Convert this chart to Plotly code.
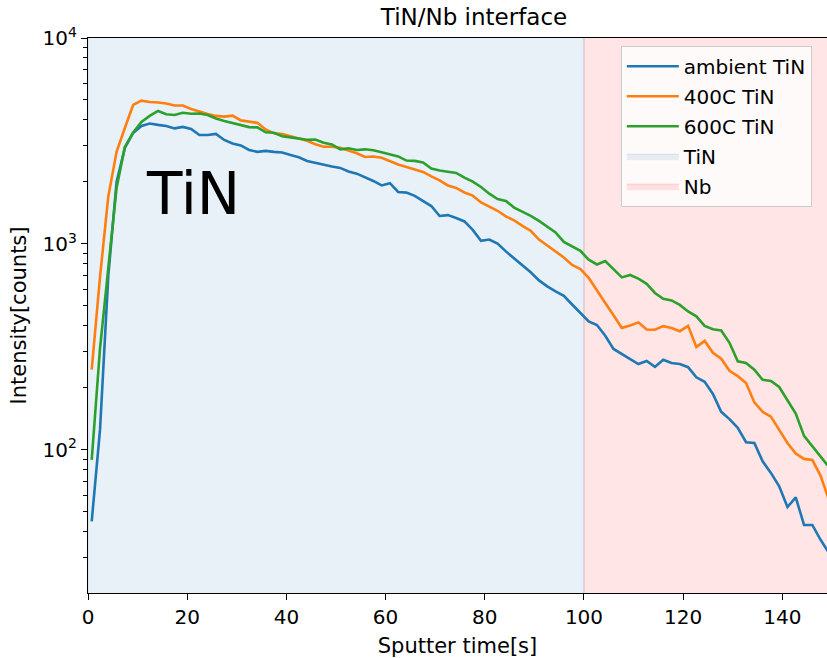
import plotly.graph_objects as go

# ---------------- data ----------------
time_s = [0.75, 2.42, 4.09, 5.76, 7.43, 9.10, 10.77, 12.44, 14.11, 15.78,
          17.45, 19.12, 20.79, 22.46, 24.13, 25.80, 27.47, 29.14, 30.81, 32.48,
          34.15, 35.82, 37.49, 39.16, 40.83, 42.50, 44.17, 45.84, 47.51, 49.18,
          50.85, 52.52, 54.19, 55.86, 57.53, 59.20, 60.87, 62.54, 64.21, 65.88,
          67.55, 69.22, 70.89, 72.56, 74.23, 75.90, 77.57, 79.24, 80.91, 82.58,
          84.25, 85.92, 87.59, 89.26, 90.93, 92.60, 94.27, 95.94, 97.61, 99.28,
          100.95, 102.62, 104.29, 105.96, 107.63, 109.30, 110.97, 112.64, 114.31, 115.98,
          117.65, 119.32, 120.99, 122.66, 124.33, 126.00, 127.67, 129.34, 131.01, 132.68,
          134.35, 136.02, 137.69, 139.36, 141.03, 142.70, 144.37, 146.04, 147.71, 149.38]

ambient_tin = [45, 125, 700, 2000, 2925, 3458, 3740, 3845, 3785, 3740,
               3640, 3700, 3615, 3380, 3380, 3420, 3198, 3075, 3010, 2860,
               2800, 2830, 2800, 2778, 2705, 2636, 2530, 2473, 2430, 2377,
               2340, 2250, 2194, 2115, 2022, 1923, 1972, 1788, 1775, 1711,
               1622, 1528, 1367, 1380, 1337, 1286, 1170, 1035, 1050, 1005,
               920, 851, 795, 728, 665, 622, 589, 560, 508, 460,
               420, 404, 358, 309, 292, 278, 261, 270, 253, 274,
               264, 261, 252, 225, 214, 187, 153, 141, 128, 109,
               108, 88, 77.3, 66.5, 52.8, 58.8, 43.2, 43.2, 36.6, 31.6]

tin_400c = [245, 690, 1700, 2800, 3656, 4730, 4963, 4890, 4860, 4810,
            4700, 4700, 4520, 4390, 4280, 4185, 4150, 4200, 3980, 3925,
            3873, 3595, 3445, 3420, 3343, 3270, 3172, 3048, 2966, 2966,
            2930, 2838, 2754, 2645, 2660, 2620, 2512, 2429, 2366, 2302,
            2238, 2130, 2034, 1923, 1870, 1778, 1716, 1590, 1517, 1449,
            1360, 1302, 1223, 1157, 1050, 984, 914, 860, 791, 755,
            684, 591, 517, 451, 391, 402, 416, 384, 383, 399,
            391, 377, 400, 316, 338, 296, 277, 242, 228, 211,
            170, 153, 145, 125, 108, 96, 90.4, 89.4, 74.8, 57.2]

tin_600c = [89.4, 310, 764, 1870, 2958, 3477, 3910, 4185, 4424, 4266,
            4230, 4338, 4290, 4300, 4230, 4063, 3955, 3867, 3775, 3693,
            3681, 3483, 3467, 3334, 3293, 3243, 3208, 3210, 3100, 3041,
            2880, 2912, 2860, 2880, 2850, 2790, 2735, 2660, 2540, 2530,
            2488, 2323, 2275, 2244, 2213, 2100, 2006, 1890, 1754, 1653,
            1617, 1502, 1439, 1368, 1294, 1210, 1138, 1023, 971, 925,
            838, 795, 826, 757, 688, 707, 679, 640, 578, 542,
            532, 506, 470, 445, 400, 385, 380, 331, 269, 264,
            245, 219, 216, 202, 175, 150, 117, 104.5, 92.5, 82.6]

series_names = ["ambient TiN", "400C TiN", "600C TiN"]
series_values = [ambient_tin, tin_400c, tin_600c]

region_names = ["TiN", "Nb"]
region_start = [0, 100]
region_end = [100, 160]

x_ticks = [0, 20, 40, 60, 80, 100, 120, 140]
y_ticks = [100, 1000, 10000]
y_tick_text = ["10<sup>2</sup>", "10<sup>3</sup>", "10<sup>4</sup>"]

# ---------------- styles ----------------
series_colors = ["#1f77b4", "#ff7f0e", "#2ca02c"]
region_fill = ["rgba(31,119,180,0.1)", "rgba(255,0,0,0.1)"]
FONT = "DejaVu Sans"
span_low, span_high = 1, 1e6

fig = go.Figure()

for k, (nm, x0, x1) in enumerate(zip(region_names, region_start, region_end)):
    fig.add_trace(go.Scatter(
        x=[x0, x1, x1, x0, x0], y=[span_low, span_low, span_high, span_high, span_low],
        fill="toself", fillcolor=region_fill[k], mode="lines",
        line=dict(color=region_fill[k], width=1.5),
        name=nm, legendgroup=nm, legendrank=10 + k, hoverinfo="skip"))

for k, (nm, vals) in enumerate(zip(series_names, series_values)):
    fig.add_trace(go.Scatter(
        x=time_s, y=vals, mode="lines", name=nm, legendgroup=nm, legendrank=1 + k,
        line=dict(color=series_colors[k], width=2.6)))

minor_vals = [m * 10 ** e for e in (1, 2, 3) for m in range(2, 10)]

fig.update_layout(
    width=827, height=658,
    margin=dict(l=88, r=0, t=38, b=65),
    paper_bgcolor="white", plot_bgcolor="white",
    font=dict(family=FONT, size=21, color="black"),
    title=dict(text="TiN/Nb interface", x=474 / 827, xanchor="center",
               y=1 - 17 / 658, yanchor="middle", yref="container",
               font=dict(family=FONT, size=23, color="black")),
    showlegend=True,
    legend=dict(x=0.721, xanchor="left", y=0.986, yanchor="top",
                bgcolor="rgba(255,255,255,0.8)", bordercolor="#cccccc", borderwidth=1,
                font=dict(family=FONT, size=20), tracegroupgap=1,
                itemwidth=52),
    annotations=[dict(text="TiN", xref="paper", yref="paper", x=0.0758, y=0.7198,
                      xanchor="left", yanchor="middle", showarrow=False,
                      font=dict(family=FONT, size=58, color="black"))],
)

fig.update_xaxes(range=[0, 149], tickvals=x_ticks, ticks="outside", ticklen=6, tickwidth=1.3,
                 tickcolor="black", showline=True, linecolor="black", linewidth=1.3,
                 mirror=True, showgrid=False, zeroline=False, automargin=False,
                 tickfont=dict(size=20),
                 title=dict(text="Sputter time[s]", font=dict(size=21), standoff=10))

fig.update_yaxes(type="log", range=[1.305, 4], tickvals=y_ticks, ticktext=y_tick_text,
                 ticks="outside", ticklen=6, tickwidth=1.3, tickcolor="black",
                 showline=True, linecolor="black", linewidth=1.3, showgrid=False,
                 zeroline=False, automargin=False, tickfont=dict(size=20),
                 minor=dict(ticks="outside", ticklen=3.5, tickwidth=1, tickcolor="black",
                            tickvals=minor_vals, showgrid=False),
                 title=dict(text="Intensity[counts]", font=dict(size=21), standoff=10))

fig.write_html("out.html")
